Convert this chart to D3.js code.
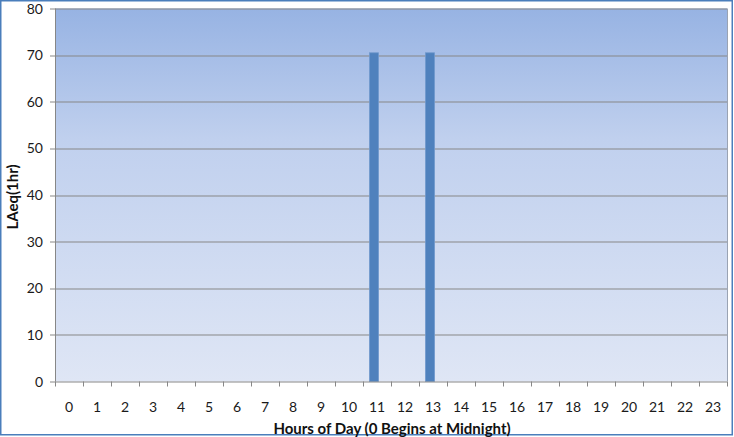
<!DOCTYPE html>
<html>
<head>
<meta charset="utf-8">
<script src="https://cdn.jsdelivr.net/npm/d3@7"></script>
<style>
  body { margin: 0; background: #fff; }
  svg { display: block; font-family: Lato, "Liberation Sans", sans-serif; }
</style>
</head>
<body>
<div id="chart"></div>
<script>
// hours of the day and the 1-hour LAeq per hour (only hours 11 and 13 measured)
const hours = d3.range(0, 24);
const measuredHours = [11, 13];
const measuredLevels = [70.5, 70.5];
const yTicks = [0, 10, 20, 30, 40, 50, 60, 70, 80];

const W = 734, H = 437;
const margin = {top: 8.5, right: 7, bottom: 55.5, left: 55},
    width = W - margin.left - margin.right,
    height = H - margin.top - margin.bottom;

const root = d3.select("#chart")
  .append("svg")
    .attr("width", W)
    .attr("height", H);

// gradient for the plot area
const defs = root.append("defs");
const grad = defs.append("linearGradient")
    .attr("id", "plotBg")
    .attr("x1", 0).attr("y1", 0).attr("x2", 0).attr("y2", 1);
grad.append("stop").attr("offset", "0%").attr("stop-color", "#97b3e3");
grad.append("stop").attr("offset", "35%").attr("stop-color", "#c0d0ee");
grad.append("stop").attr("offset", "100%").attr("stop-color", "#dfe6f5");

// outer frame
root.append("rect")
    .attr("x", 0.75).attr("y", 0.75)
    .attr("width", W - 2.5).attr("height", H - 3)
    .attr("fill", "#fff")
    .attr("stroke", "#4a7ebb")
    .attr("stroke-width", 1.5);

const svg = root.append("g")
    .attr("transform", `translate(${margin.left},${margin.top})`);

svg.append("rect")
    .attr("width", width)
    .attr("height", height)
    .attr("fill", "url(#plotBg)");

// scales
const x = d3.scaleBand()
    .domain(hours)
    .range([0, width])
    .paddingInner(0.68)
    .paddingOuter(0.34);

const y = d3.scaleLinear()
    .domain([0, 80])
    .range([height, 0]);

// gridlines
svg.append("g")
  .selectAll("line")
  .data(yTicks.filter(d => d > 0))
  .join("line")
    .attr("x1", 0)
    .attr("x2", width)
    .attr("y1", d => Math.round(y(d)) + 0.5)
    .attr("y2", d => Math.round(y(d)) + 0.5)
    .attr("stroke", "#878787")
    .attr("stroke-width", 1);

// right border of plot
svg.append("line")
    .attr("x1", width + 0.5).attr("x2", width + 0.5)
    .attr("y1", 0).attr("y2", height)
    .attr("stroke", "#9aa3b3");

// bars
const bars = measuredHours.map((h, i) => ({hour: h, value: measuredLevels[i]}));
svg.append("g")
  .selectAll("rect")
  .data(bars)
  .join("rect")
    .attr("x", d => x(d.hour) - 3)
    .attr("y", d => y(d.value))
    .attr("width", x.bandwidth())
    .attr("height", d => height - y(d.value))
    .attr("fill", "#4f81bd")
    .attr("stroke", "#6f98cc")
    .attr("stroke-width", 0.8);

// X axis (ticks between categories)
const xAxis = svg.append("g")
    .attr("transform", `translate(0,${height})`);
xAxis.append("line")
    .attr("x1", 0).attr("x2", width)
    .attr("y1", 0.5).attr("y2", 0.5)
    .attr("stroke", "#878787");
xAxis.selectAll(".tk")
  .data(d3.range(0, 25))
  .join("line")
    .attr("class", "tk")
    .attr("x1", i => Math.round(i * width / 24) + 0.5)
    .attr("x2", i => Math.round(i * width / 24) + 0.5)
    .attr("y1", 0).attr("y2", 5)
    .attr("stroke", "#878787");
xAxis.selectAll("text")
  .data(hours)
  .join("text")
    .attr("x", d => x(d) + x.bandwidth() / 2)
    .attr("y", 30.5)
    .attr("text-anchor", "middle")
    .attr("font-size", 14)
    .attr("fill", "#1a1a1a")
    .text(d => d);

// Y axis
const yAxis = svg.append("g");
yAxis.append("line")
    .attr("x1", 0.5).attr("x2", 0.5)
    .attr("y1", 0).attr("y2", height)
    .attr("stroke", "#878787");
yAxis.selectAll(".tk")
  .data(yTicks)
  .join("line")
    .attr("class", "tk")
    .attr("x1", -5).attr("x2", 0)
    .attr("y1", d => Math.round(y(d)) + 0.5)
    .attr("y2", d => Math.round(y(d)) + 0.5)
    .attr("stroke", "#878787");
yAxis.selectAll("text")
  .data(yTicks)
  .join("text")
    .attr("x", -12)
    .attr("y", d => y(d))
    .attr("dy", "0.36em")
    .attr("text-anchor", "end")
    .attr("font-size", 14)
    .attr("fill", "#1a1a1a")
    .text(d => d);

// axis titles
svg.append("text")
    .attr("x", width / 2 + 1)
    .attr("y", height + 52)
    .attr("text-anchor", "middle")
    .attr("font-size", 15)
    .attr("font-weight", "bold")
    .attr("fill", "#111")
    .text("Hours of Day (0 Begins at Midnight)");

svg.append("text")
    .attr("transform", `translate(${-37},${height / 2 + 2}) rotate(-90)`)
    .attr("text-anchor", "middle")
    .attr("font-size", 15)
    .attr("font-weight", "bold")
    .attr("fill", "#111")
    .text("LAeq(1hr)");
</script>
</body>
</html>
